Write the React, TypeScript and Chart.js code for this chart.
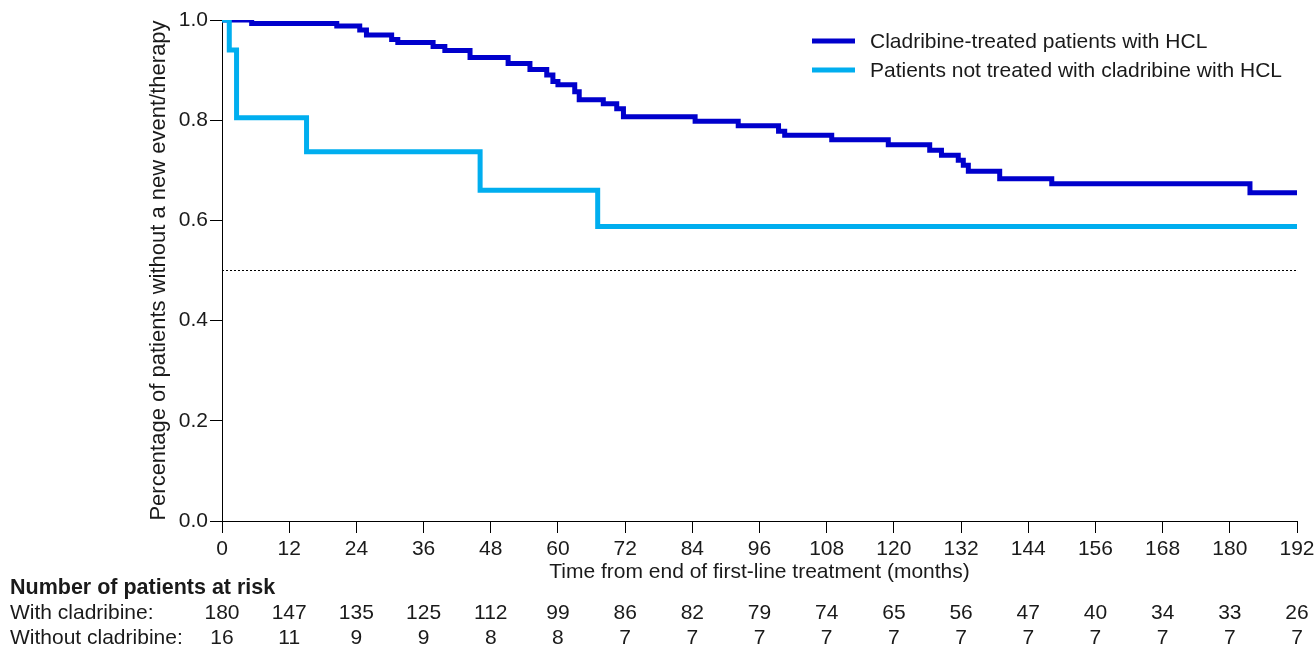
import React, { useEffect, useRef } from "react";
import { Chart, registerables } from "chart.js";

Chart.register(...registerables);

// Kaplan–Meier steps (time in months, proportion event-free)
const cladTimes = [0, 5.3, 20.5, 24.6, 25.8, 30.3, 31.4, 37.7, 39.8, 44.3, 51.1, 55, 58, 59.1, 60, 63, 63.8, 68.1, 70.5, 71.7, 84.5, 92.2, 99.4, 100.5, 108.9, 119, 126.4, 128.5, 131.5, 132.4, 133.3, 138.9, 148.2, 183.6, 192];
const cladSurv = [1.0, 0.993, 0.988, 0.98, 0.97, 0.961, 0.955, 0.947, 0.939, 0.925, 0.913, 0.901, 0.89, 0.877, 0.871, 0.857, 0.841, 0.833, 0.823, 0.807, 0.798, 0.789, 0.778, 0.77, 0.761, 0.751, 0.74, 0.73, 0.72, 0.71, 0.698, 0.683, 0.673, 0.655, 0.655];

const noCladTimes = [0, 1.3, 2.6, 15.1, 46.1, 67.1, 192];
const noCladSurv = [1.0, 0.94, 0.805, 0.737, 0.66, 0.588, 0.588];

const medianTimes = [0, 192];
const medianLevel = [0.5, 0.5];

const riskTimes = [0, 12, 24, 36, 48, 60, 72, 84, 96, 108, 120, 132, 144, 156, 168, 180, 192];
const riskWith = [180, 147, 135, 125, 112, 99, 86, 82, 79, 74, 65, 56, 47, 40, 34, 33, 26];
const riskWithout = [16, 11, 9, 9, 8, 8, 7, 7, 7, 7, 7, 7, 7, 7, 7, 7, 7];

const seriesLabels = ["Cladribine-treated patients with HCL", "Patients not treated with cladribine with HCL"];
const riskHeader = "Number of patients at risk";
const riskRowLabels = ["With cladribine:", "Without cladribine:"];
const xTitle = "Time from end of first-line treatment (months)";
const yTitle = "Percentage of patients without a new event/therapy";

const DARK = "#0000CC";
const LIGHT = "#00AEEF";
const FONT = "'Liberation Sans', Arial, sans-serif";
const TEXT = "#1a1a1a";

const overlayPlugin = {
  id: "overlay",
  afterDraw(chart: any) {
    const ctx = chart.ctx;
    const xs = chart.scales.x;
    const area = chart.chartArea;
    ctx.save();
    // legend
    const colors = [DARK, LIGHT];
    ctx.font = `21px ${FONT}`;
    ctx.textBaseline = "middle";
    ctx.textAlign = "left";
    seriesLabels.forEach((lab, i) => {
      const y = area.top + 21 + i * 29;
      ctx.strokeStyle = colors[i];
      ctx.lineWidth = 5;
      ctx.beginPath();
      ctx.moveTo(812, y);
      ctx.lineTo(855, y);
      ctx.stroke();
      ctx.fillStyle = TEXT;
      ctx.fillText(lab, 870, y + 1);
    });
    // risk table
    ctx.fillStyle = TEXT;
    ctx.font = `bold 21.5px ${FONT}`;
    ctx.fillText(riskHeader, 10, 588);
    ctx.font = `21px ${FONT}`;
    ctx.fillText(riskRowLabels[0], 10, 613);
    ctx.fillText(riskRowLabels[1], 10, 638);
    ctx.textAlign = "center";
    riskTimes.forEach((t, i) => {
      const px = xs.getPixelForValue(t);
      ctx.fillText(String(riskWith[i]), px, 613);
      ctx.fillText(String(riskWithout[i]), px, 638);
    });
    ctx.restore();
  },
};

export default function App() {
  const ref = useRef<HTMLCanvasElement | null>(null);
  useEffect(() => {
    if (!ref.current) return;
    const toPts = (xs: number[], ys: number[]) => xs.map((x, i) => ({ x, y: ys[i] }));
    const chart = new Chart(ref.current, {
      type: "line",
      data: {
        datasets: [
          {
            label: "median",
            data: toPts(medianTimes, medianLevel),
            borderColor: "#000",
            borderWidth: 1,
            borderDash: [2, 2],
            pointRadius: 0,
            fill: false,
          },
          {
            label: seriesLabels[1],
            data: toPts(noCladTimes, noCladSurv),
            borderColor: LIGHT,
            borderWidth: 5,
            stepped: "before",
            pointRadius: 0,
            fill: false,
          },
          {
            label: seriesLabels[0],
            data: toPts(cladTimes, cladSurv),
            borderColor: DARK,
            borderWidth: 5,
            stepped: "before",
            pointRadius: 0,
            fill: false,
          },
        ],
      },
      options: {
        animation: false,
        responsive: true,
        maintainAspectRatio: false,
        layout: { padding: { left: 140, top: 20, right: 18, bottom: 62 } },
        plugins: { legend: { display: false }, tooltip: { enabled: false } },
        scales: {
          x: {
            type: "linear",
            min: 0,
            max: 192,
            afterFit: (s: any) => { s.height = 65; s.paddingLeft = 0; s.paddingRight = 0; },
            ticks: { stepSize: 12, color: TEXT, font: { family: FONT, size: 21 }, padding: 4, maxRotation: 0, autoSkip: false },
            grid: { drawOnChartArea: false, drawTicks: true, tickLength: 12, color: "#000" },
            border: { display: true, color: "#000", width: 1 },
            title: { display: true, text: xTitle, color: TEXT, font: { family: FONT, size: 21 }, padding: { top: 0, bottom: 1 } },
          },
          y: {
            min: 0,
            max: 1,
            afterFit: (s: any) => { s.width = 82; s.paddingTop = 0; s.paddingBottom = 0; },
            ticks: { stepSize: 0.2, color: TEXT, font: { family: FONT, size: 21 }, padding: 2, callback: (v: any) => Number(v).toFixed(1) },
            grid: { drawOnChartArea: false, drawTicks: true, tickLength: 12, color: "#000" },
            border: { display: true, color: "#000", width: 1 },
            title: { display: true, text: yTitle, color: TEXT, font: { family: FONT, size: 22 }, padding: { top: 6, bottom: 0 } },
          },
        },
      },
      plugins: [overlayPlugin],
    });
    return () => chart.destroy();
  }, []);
  return (
    <div style={{ position: "absolute", left: 0, top: 0, width: 1315, height: 648, background: "#fff" }}>
      <canvas ref={ref} />
    </div>
  );
}
